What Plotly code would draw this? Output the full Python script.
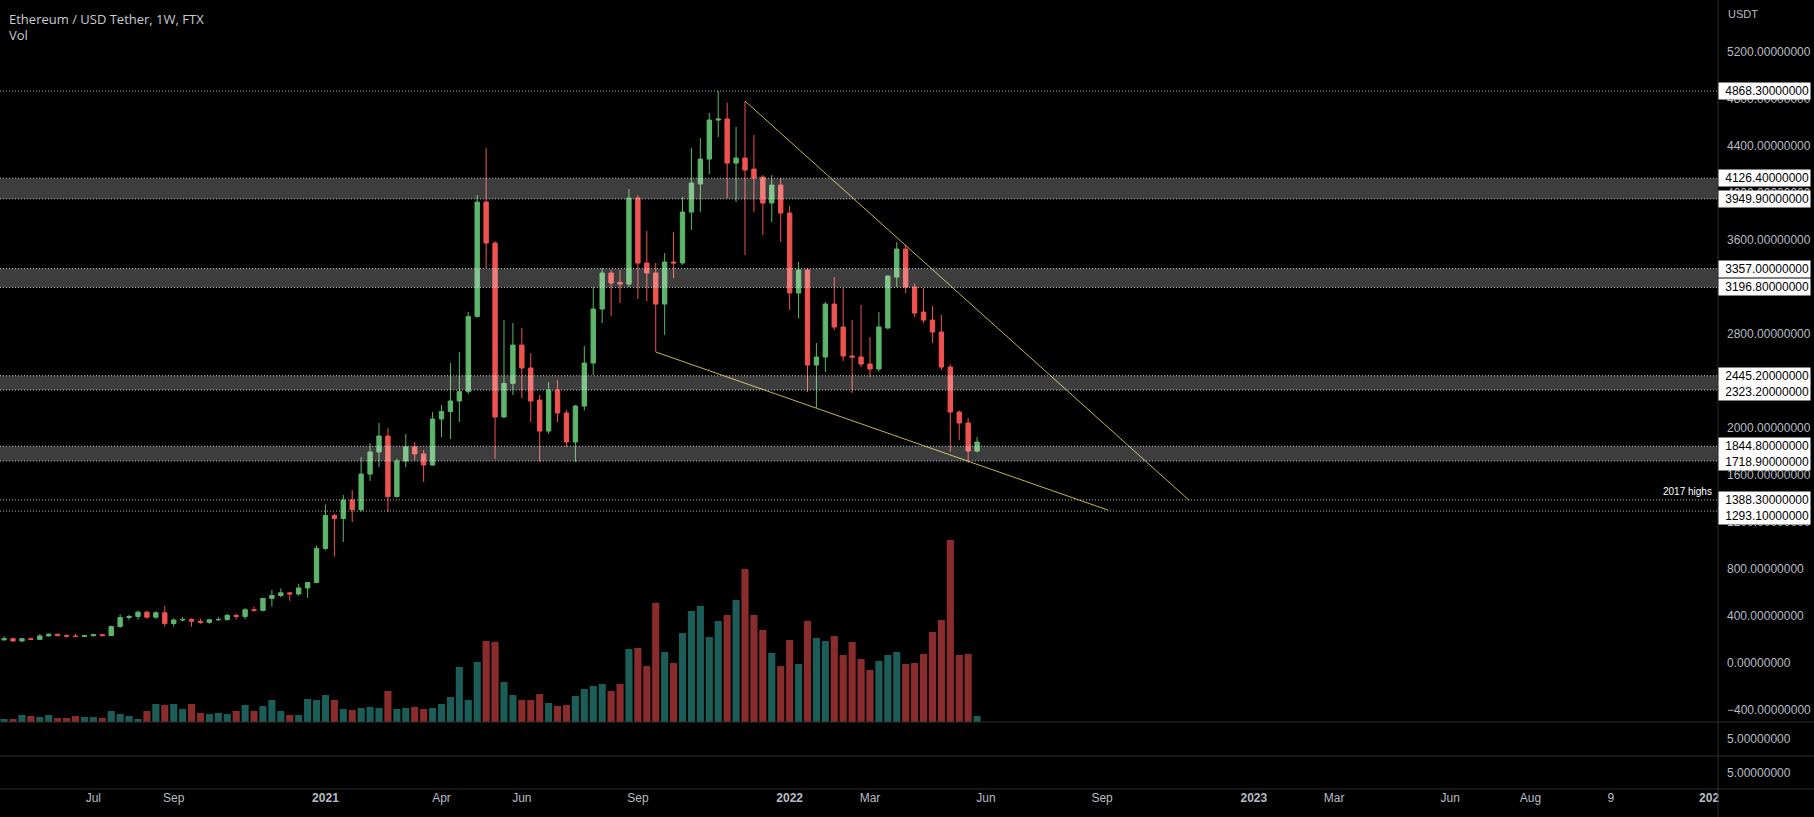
import pandas as pd
import plotly.graph_objects as go

# ---------------- data ----------------
start_week = "2020-04-27"
opens = [197, 207, 188, 207, 201, 231, 245, 233, 229, 226,
         232, 241, 233, 311, 387, 396, 433, 390, 428, 336,
         366, 370, 355, 346, 368, 370, 406, 396, 453, 448,
         550, 575, 597, 588, 639, 685, 975, 1255, 1230, 1387,
         1305, 1608, 1796, 1932, 1416, 1719, 1840, 1780, 1685, 2077,
         2140, 2230, 2310, 2950, 3923, 3574, 2094, 2380, 2706, 2511,
         2238, 1974, 2323, 2128, 1881, 2187, 2553, 3013, 3319, 3240,
         3225, 3957, 3404, 3319, 3055, 3413, 3405, 3838, 4077, 4289,
         4621, 4630, 4255, 4298, 4204, 4136, 3915, 4068, 3830, 3149,
         3345, 2536, 2604, 3055, 2860, 2613, 2604, 2545, 2502, 2851,
         3285, 3523, 3200, 2987, 2919, 2817, 2519, 2136, 2043, 1804]
highs = [227, 216, 215, 216, 246, 253, 250, 242, 247, 236,
         249, 246, 318, 415, 410, 446, 445, 440, 488, 380,
         392, 380, 378, 375, 393, 417, 418, 467, 480, 550,
         622, 635, 603, 675, 690, 1000, 1350, 1270, 1430, 1472,
         1753, 1872, 2043, 2000, 1740, 1949, 1881, 1813, 2136, 2196,
         2553, 2647, 2987, 3983, 4383, 3590, 2919, 2894, 2851, 2638,
         2281, 2391, 2408, 2153, 2196, 2698, 3200, 3362, 3345, 3345,
         4034, 3980, 3677, 3404, 3489, 3668, 3966, 4383, 4468, 4681,
         4868.3, 4770, 4562, 4783, 4494, 4153, 4153, 4128, 3889, 3413,
         3360, 2723, 3072, 3285, 3191, 2919, 3047, 2774, 2987, 3300,
         3583, 3560, 3230, 3191, 3038, 2962, 2540, 2150, 2085, 1923]
lows = [191, 180, 176, 197, 198, 225, 228, 216, 222, 221,
        227, 230, 232, 300, 368, 370, 377, 376, 310, 310,
        355, 308, 334, 334, 360, 360, 370, 373, 437, 440,
        480, 560, 530, 572, 555, 680, 960, 905, 1030, 1200,
        1290, 1550, 1668, 1285, 1410, 1668, 1728, 1540, 1680, 1923,
        1906, 2051, 2290, 2940, 3362, 1736, 2085, 2281, 2255, 2051,
        1711, 1950, 2051, 1838, 1711, 2150, 2450, 2894, 2953, 3064,
        3200, 3098, 3080, 2647, 2791, 3277, 3390, 3685, 3838, 4162,
        4477, 3957, 3923, 3472, 3838, 3643, 3753, 3583, 3004, 2936,
        2306, 2170, 2477, 2834, 2570, 2298, 2519, 2434, 2480, 2840,
        3200, 3149, 2945, 2894, 2723, 2494, 1796, 1898, 1702, 1790]
closes = [207, 188, 207, 201, 231, 245, 233, 229, 226, 232,
          241, 233, 311, 387, 396, 433, 390, 428, 336, 366,
          370, 355, 346, 368, 370, 406, 396, 453, 448, 550,
          575, 597, 588, 639, 685, 975, 1255, 1230, 1387, 1305,
          1608, 1796, 1932, 1416, 1719, 1840, 1780, 1685, 2077, 2140,
          2230, 2310, 2950, 3923, 3574, 2094, 2380, 2706, 2511, 2230,
          1974, 2323, 2128, 1881, 2187, 2553, 3013, 3319, 3234, 3225,
          3957, 3404, 3319, 3055, 3413, 3405, 3838, 4085, 4289, 4621,
          4630, 4255, 4298, 4196, 4128, 3915, 4068, 3830, 3149, 3345,
          2536, 2604, 3055, 2860, 2613, 2604, 2545, 2502, 2860, 3294,
          3523, 3200, 2979, 2919, 2817, 2519, 2136, 2043, 1804, 1881]
volumes = [3, 3, 7, 6, 5, 7, 4, 4, 6, 5,
           5, 4, 11, 8, 6, 3, 11, 18, 17, 18,
           13, 18, 9, 8, 9, 8, 11, 17, 11, 16,
           22, 11, 7, 7, 23, 22, 27, 22, 13, 12,
           14, 15, 14, 31, 13, 14, 15, 13, 14, 18,
           25, 55, 22, 60, 81, 80, 40, 27, 22, 22,
           28, 19, 16, 17, 26, 33, 36, 38, 31, 38,
           73, 74, 56, 119, 70, 59, 89, 111, 116, 85,
           101, 107, 122, 153, 107, 92, 69, 56, 82, 58,
           101, 84, 81, 86, 67, 80, 63, 52, 61, 67,
           70, 58, 59, 68, 90, 102, 182, 67, 68, 6]

zone_bottoms = [3949.9, 3196.8, 2323.2, 1718.9]
zone_tops = [4126.4, 3357.0, 2445.2, 1844.8]
single_levels = [4868.3, 1388.3, 1293.1]
level_labels = [4868.3, 4126.4, 3949.9, 3357.0, 3196.8, 2445.2, 2323.2,
                1844.8, 1718.9, 1388.3, 1293.1]

upper_trend_x = ["2021-11-29", "2022-11-12"]
upper_trend_y = [4783, 1388]
lower_trend_x = ["2021-09-20", "2022-09-10"]
lower_trend_y = [2647, 1300]

price_ticks = [-400, 0, 400, 800, 1200, 1600, 2000, 2400, 2800, 3200,
               3600, 4000, 4400, 4800, 5200]
time_tick_dates = ["2020-07-06", "2020-09-07", "2021-01-04", "2021-04-05",
                   "2021-06-07", "2021-09-06", "2022-01-03", "2022-03-07",
                   "2022-06-06", "2022-09-05", "2023-01-02", "2023-03-06",
                   "2023-06-05", "2023-08-07", "2023-10-09", "2023-12-25"]
time_tick_text = ["Jul", "Sep", "<b>2021</b>", "Apr", "Jun", "Sep", "<b>2022</b>",
                  "Mar", "Jun", "Sep", "<b>2023</b>", "Mar", "Jun", "Aug", "9",
                  "<b>202</b>"]

# ---------------- geometry / styles ----------------
W, H = 1814, 817
PLOT_W = 1718
PRICE_RANGE = [-502, 5643]
X_RANGE = ["2020-04-23 19:00", "2024-01-01 00:00"]
main_bottom_px, pane2_bottom_px, pane3_bottom_px = 722, 756, 789

UP = "#5db56b"
DOWN = "#ef5350"
VOL_UP = "#1c5e57"
VOL_DOWN = "#8a2c2c"
TEXT = "#b8bcc4"
GRIDLINE = "#2f2f2f"
TREND = "#c4b452"
FONT = "Liberation Sans"

dates = pd.date_range(start_week, periods=len(opens), freq="7D")
vol_colors = [VOL_UP if c >= o else VOL_DOWN for o, c in zip(opens, closes)]

fig = go.Figure()
fig.add_trace(go.Bar(
    x=dates, y=volumes, marker=dict(color=vol_colors, line=dict(width=0)),
    width=7 * 86400000 * 0.8, xaxis="x", yaxis="y2", hoverinfo="skip"))
fig.add_trace(go.Candlestick(
    x=dates, open=opens, high=highs, low=lows, close=closes,
    increasing=dict(line=dict(color=UP, width=1), fillcolor=UP),
    decreasing=dict(line=dict(color=DOWN, width=1), fillcolor=DOWN),
    whiskerwidth=0, xaxis="x", yaxis="y"))
fig.add_trace(go.Scatter(x=upper_trend_x, y=upper_trend_y, mode="lines",
                         line=dict(color=TREND, width=1), xaxis="x", yaxis="y"))
fig.add_trace(go.Scatter(x=lower_trend_x, y=lower_trend_y, mode="lines",
                         line=dict(color=TREND, width=1), xaxis="x", yaxis="y"))
fig.add_trace(go.Scatter(x=[], y=[], xaxis="x", yaxis="y3"))
fig.add_trace(go.Scatter(x=[], y=[], xaxis="x", yaxis="y4"))

shapes = []
for lo, hi in zip(zone_bottoms, zone_tops):
    shapes.append(dict(type="rect", xref="paper", yref="y", x0=0, x1=1, y0=lo, y1=hi,
                       fillcolor="rgba(255,255,255,0.24)", line=dict(width=0), layer="above"))
    for v in (lo, hi):
        shapes.append(dict(type="line", xref="paper", yref="y", x0=0, x1=1, y0=v, y1=v,
                           line=dict(color="rgba(230,230,230,0.8)", width=1, dash="1px,2px"),
                           layer="above"))
for v in single_levels:
    shapes.append(dict(type="line", xref="paper", yref="y", x0=0, x1=1, y0=v, y1=v,
                       line=dict(color="rgba(230,230,230,0.8)", width=1, dash="1px,2px"),
                       layer="above"))
for ypx in (main_bottom_px, pane2_bottom_px, pane3_bottom_px):
    yp = 1 - ypx / H
    shapes.append(dict(type="line", xref="paper", yref="paper", x0=0, x1=W / PLOT_W,
                       y0=yp, y1=yp, line=dict(color=GRIDLINE, width=1)))
shapes.append(dict(type="line", xref="paper", yref="paper", x0=1, x1=1, y0=0, y1=1,
                   line=dict(color=GRIDLINE, width=1)))

# level labels on the price scale (pushed apart like the reference)
ppu = main_bottom_px / (PRICE_RANGE[1] - PRICE_RANGE[0])
annotations = []
prev = -100
for lv in sorted(level_labels, reverse=True):
    ypx = (PRICE_RANGE[1] - lv) * ppu
    adj = max(ypx, prev + 16)
    prev = adj
    annotations.append(dict(
        xref="paper", yref="y", x=1, y=lv, xanchor="left", yanchor="middle",
        yshift=-(adj - ypx), text=f"{lv:.8f}", showarrow=False,
        font=dict(family=FONT, size=12, color="#000000"),
        bgcolor="#ffffff", borderpad=1, width=89, align="right"))

annotations += [
    dict(xref="paper", yref="paper", x=0, y=1, xanchor="left", yanchor="top",
         xshift=7, yshift=-8, text="Ethereum / USD Tether, 1W, FTX", showarrow=False,
         font=dict(family="Open Sans", size=13, color="#c9ccd3")),
    dict(xref="paper", yref="paper", x=0, y=1, xanchor="left", yanchor="top",
         xshift=7, yshift=-24, text="Vol", showarrow=False,
         font=dict(family="Open Sans", size=13, color="#c9ccd3")),
    dict(xref="paper", yref="paper", x=1, y=1, xanchor="left", yanchor="top",
         xshift=8, yshift=-6, text="USDT", showarrow=False,
         font=dict(family=FONT, size=11, color=TEXT)),
    dict(xref="paper", yref="y", x=1, y=1388.3, xanchor="right", yanchor="bottom",
         xshift=-4, yshift=1, text="2017 highs", showarrow=False,
         font=dict(family=FONT, size=10, color="#ffffff")),
]

fig.update_layout(
    width=W, height=H, margin=dict(l=0, r=W - PLOT_W, t=0, b=0),
    paper_bgcolor="#000000", plot_bgcolor="#000000", showlegend=False,
    shapes=shapes, annotations=annotations, hovermode=False,
    xaxis=dict(type="date", domain=[0, 1], range=X_RANGE, anchor="y4",
               rangeslider=dict(visible=False), showgrid=False, zeroline=False,
               tickvals=time_tick_dates, ticktext=time_tick_text, ticks="",
               tickfont=dict(family=FONT, size=12, color=TEXT), showline=False),
    yaxis=dict(domain=[1 - main_bottom_px / H, 1], range=PRICE_RANGE, side="right",
               anchor="x", tickvals=price_ticks, tickformat=".8f", showgrid=False,
               zeroline=False, ticks="", ticklabelstandoff=8,
               tickfont=dict(family=FONT, size=12, color=TEXT)),
    yaxis2=dict(overlaying="y", range=[0, main_bottom_px], visible=False),
    yaxis3=dict(domain=[1 - pane2_bottom_px / H, 1 - main_bottom_px / H], range=[0, 10],
                side="right", anchor="x", tickvals=[5], ticktext=["5.00000000"],
                showgrid=False, zeroline=False, ticks="", ticklabelstandoff=8,
                tickfont=dict(family=FONT, size=12, color=TEXT)),
    yaxis4=dict(domain=[1 - pane3_bottom_px / H, 1 - pane2_bottom_px / H], range=[0, 10],
                side="right", anchor="x", tickvals=[5], ticktext=["5.00000000"],
                showgrid=False, zeroline=False, ticks="", ticklabelstandoff=8,
                tickfont=dict(family=FONT, size=12, color=TEXT)),
)

fig.write_html("out.html")
